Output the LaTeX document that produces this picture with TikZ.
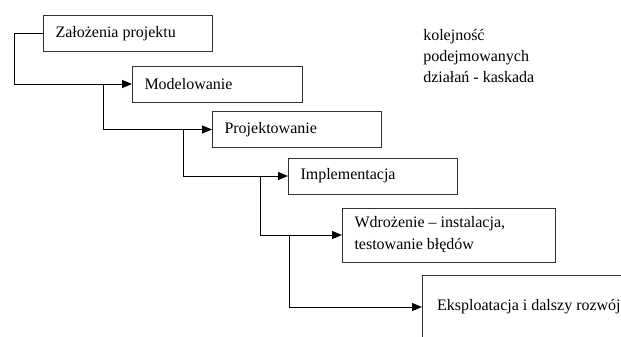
\documentclass[tikz,border=0pt]{standalone}
\usepackage{fontspec}
\setmainfont{Liberation Serif}
\usetikzlibrary{arrows.meta}
\tikzset{
  etap/.style={draw=black!80, line width=0.75pt, rectangle, anchor=west,
    inner xsep=9pt, align=flush left, text width=#1, minimum height=27pt,
    font=\fontsize{12}{16.5}\selectfont},
  pil/.style={line width=0.75pt, -{Triangle[length=7.5pt,width=6pt]}}
}
\begin{document}
\begin{tikzpicture}[x=0.75pt,y=-0.75pt]
\useasboundingbox (0,0) rectangle (621,336);
\clip (0,0) rectangle (621,336);
\node[etap=108.75pt] (zal) at (43,33.5) {Założenia projektu};
\node[etap=109.5pt] (mod) at (132,84) {Modelowanie};
\node[etap=108.75pt] (proj) at (212,129.5) {Projektowanie};
\node[etap=108.75pt] (impl) at (288,176) {Implementacja};
\node[etap=141.75pt, minimum height=40.5pt] (wdr) at (342,235) {\mbox{Wdrożenie – instalacja,}\\\mbox{testowanie błędów}};
\node[etap=150pt, minimum height=48pt, inner xsep=11pt] (eksp) at (422,307) {\mbox{Eksploatacja i dalszy rozwój}};
\node[anchor=north west, align=left, inner sep=0pt, font=\fontsize{12}{15.75}\selectfont] (opis) at (423,29) {kolejność\\podejmowanych\\działań - kaskada};
\coordinate (r1) at (103,84);
\coordinate (r2) at (183,129.5);
\coordinate (r3) at (260,176);
\coordinate (r4) at (289,235);
\draw[pil] (zal.west) -- ++(-29,0) |- (mod.west);
\draw[pil] (r1) |- (proj.west);
\draw[pil] (r2) |- (impl.west);
\draw[pil] (r3) |- (wdr.west);
\draw[pil] (r4) |- (eksp.west);
\end{tikzpicture}
\end{document}
